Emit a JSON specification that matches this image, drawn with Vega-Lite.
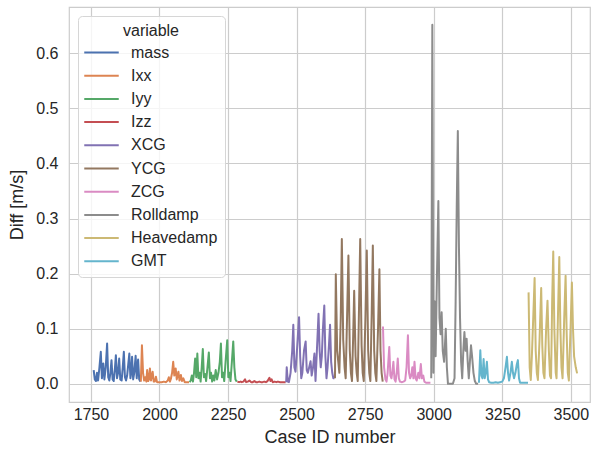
{
"$schema": "https://vega.github.io/schema/vega-lite/v6.json",
"width": 521, "height": 395,
"autosize": "none",
"padding": {"left": 69, "top": 7, "right": 10, "bottom": 52},
"background": "white",
"config": {
  "font": "Liberation Sans",
  "view": {"stroke": "#cccccc", "strokeWidth": 1.2},
  "axis": {"domain": false, "ticks": false, "grid": true, "gridColor": "#cccccc", "gridWidth": 1.2, "labelFontSize": 16, "labelColor": "#262626", "titleFontSize": 18, "titleFontWeight": "normal", "titleColor": "#262626"}
},
"data": {"values": [
{"case":1760,"variable":"mass","diff":0.025},{"case":1764,"variable":"mass","diff":0.008},{"case":1768,"variable":"mass","diff":0.005},{"case":1772,"variable":"mass","diff":0.02},{"case":1776,"variable":"mass","diff":0.006},{"case":1781,"variable":"mass","diff":0.03},{"case":1786,"variable":"mass","diff":0.058},{"case":1790,"variable":"mass","diff":0.01},{"case":1795,"variable":"mass","diff":0.037},{"case":1799,"variable":"mass","diff":0.008},{"case":1804,"variable":"mass","diff":0.03},{"case":1809,"variable":"mass","diff":0.073},{"case":1813,"variable":"mass","diff":0.012},{"case":1817,"variable":"mass","diff":0.006},{"case":1821,"variable":"mass","diff":0.02},{"case":1825,"variable":"mass","diff":0.043},{"case":1829,"variable":"mass","diff":0.008},{"case":1833,"variable":"mass","diff":0.005},{"case":1837,"variable":"mass","diff":0.025},{"case":1841,"variable":"mass","diff":0.052},{"case":1845,"variable":"mass","diff":0.01},{"case":1849,"variable":"mass","diff":0.02},{"case":1853,"variable":"mass","diff":0.046},{"case":1857,"variable":"mass","diff":0.008},{"case":1862,"variable":"mass","diff":0.006},{"case":1866,"variable":"mass","diff":0.03},{"case":1870,"variable":"mass","diff":0.058},{"case":1874,"variable":"mass","diff":0.012},{"case":1878,"variable":"mass","diff":0.006},{"case":1882,"variable":"mass","diff":0.015},{"case":1886,"variable":"mass","diff":0.035},{"case":1890,"variable":"mass","diff":0.055},{"case":1894,"variable":"mass","diff":0.01},{"case":1897,"variable":"mass","diff":0.02},{"case":1900,"variable":"mass","diff":0.049},{"case":1904,"variable":"mass","diff":0.008},{"case":1908,"variable":"mass","diff":0.02},{"case":1913,"variable":"mass","diff":0.051},{"case":1917,"variable":"mass","diff":0.01},{"case":1922,"variable":"mass","diff":0.044},{"case":1926,"variable":"mass","diff":0.008},{"case":1930,"variable":"mass","diff":0.004},
{"case":1932,"variable":"Ixx","diff":0.004},{"case":1936,"variable":"Ixx","diff":0.07},{"case":1940,"variable":"Ixx","diff":0.02},{"case":1944,"variable":"Ixx","diff":0.006},{"case":1948,"variable":"Ixx","diff":0.012},{"case":1952,"variable":"Ixx","diff":0.004},{"case":1955,"variable":"Ixx","diff":0.025},{"case":1959,"variable":"Ixx","diff":0.005},{"case":1962,"variable":"Ixx","diff":0.008},{"case":1965,"variable":"Ixx","diff":0.028},{"case":1969,"variable":"Ixx","diff":0.006},{"case":1975,"variable":"Ixx","diff":0.022},{"case":1979,"variable":"Ixx","diff":0.004},{"case":1983,"variable":"Ixx","diff":0.004},{"case":1987,"variable":"Ixx","diff":0.013},{"case":1991,"variable":"Ixx","diff":0.003},{"case":2000,"variable":"Ixx","diff":0.003},{"case":2008,"variable":"Ixx","diff":0.003},{"case":2016,"variable":"Ixx","diff":0.004},{"case":2024,"variable":"Ixx","diff":0.003},{"case":2030,"variable":"Ixx","diff":0.006},{"case":2034,"variable":"Ixx","diff":0.012},{"case":2038,"variable":"Ixx","diff":0.004},{"case":2042,"variable":"Ixx","diff":0.01},{"case":2046,"variable":"Ixx","diff":0.02},{"case":2050,"variable":"Ixx","diff":0.04},{"case":2054,"variable":"Ixx","diff":0.015},{"case":2059,"variable":"Ixx","diff":0.028},{"case":2063,"variable":"Ixx","diff":0.008},{"case":2069,"variable":"Ixx","diff":0.022},{"case":2073,"variable":"Ixx","diff":0.006},{"case":2078,"variable":"Ixx","diff":0.016},{"case":2082,"variable":"Ixx","diff":0.005},{"case":2087,"variable":"Ixx","diff":0.01},{"case":2092,"variable":"Ixx","diff":0.003},{"case":2100,"variable":"Ixx","diff":0.003},{"case":2108,"variable":"Ixx","diff":0.003},
{"case":2110,"variable":"Iyy","diff":0.003},{"case":2114,"variable":"Iyy","diff":0.006},{"case":2118,"variable":"Iyy","diff":0.015},{"case":2122,"variable":"Iyy","diff":0.004},{"case":2126,"variable":"Iyy","diff":0.02},{"case":2130,"variable":"Iyy","diff":0.046},{"case":2134,"variable":"Iyy","diff":0.012},{"case":2138,"variable":"Iyy","diff":0.055},{"case":2142,"variable":"Iyy","diff":0.01},{"case":2146,"variable":"Iyy","diff":0.02},{"case":2150,"variable":"Iyy","diff":0.004},{"case":2154,"variable":"Iyy","diff":0.03},{"case":2158,"variable":"Iyy","diff":0.063},{"case":2162,"variable":"Iyy","diff":0.012},{"case":2166,"variable":"Iyy","diff":0.018},{"case":2170,"variable":"Iyy","diff":0.005},{"case":2175,"variable":"Iyy","diff":0.03},{"case":2180,"variable":"Iyy","diff":0.057},{"case":2184,"variable":"Iyy","diff":0.01},{"case":2188,"variable":"Iyy","diff":0.02},{"case":2192,"variable":"Iyy","diff":0.004},{"case":2196,"variable":"Iyy","diff":0.015},{"case":2200,"variable":"Iyy","diff":0.006},{"case":2205,"variable":"Iyy","diff":0.025},{"case":2210,"variable":"Iyy","diff":0.008},{"case":2215,"variable":"Iyy","diff":0.02},{"case":2220,"variable":"Iyy","diff":0.04},{"case":2224,"variable":"Iyy","diff":0.073},{"case":2228,"variable":"Iyy","diff":0.012},{"case":2232,"variable":"Iyy","diff":0.02},{"case":2236,"variable":"Iyy","diff":0.005},{"case":2241,"variable":"Iyy","diff":0.04},{"case":2247,"variable":"Iyy","diff":0.079},{"case":2251,"variable":"Iyy","diff":0.012},{"case":2255,"variable":"Iyy","diff":0.02},{"case":2259,"variable":"Iyy","diff":0.005},{"case":2264,"variable":"Iyy","diff":0.04},{"case":2269,"variable":"Iyy","diff":0.077},{"case":2273,"variable":"Iyy","diff":0.03},{"case":2277,"variable":"Iyy","diff":0.008},{"case":2282,"variable":"Iyy","diff":0.004},
{"case":2284,"variable":"Izz","diff":0.004},{"case":2290,"variable":"Izz","diff":0.003},{"case":2296,"variable":"Izz","diff":0.004},{"case":2300,"variable":"Izz","diff":0.003},{"case":2306,"variable":"Izz","diff":0.004},{"case":2312,"variable":"Izz","diff":0.008},{"case":2316,"variable":"Izz","diff":0.003},{"case":2322,"variable":"Izz","diff":0.004},{"case":2328,"variable":"Izz","diff":0.006},{"case":2334,"variable":"Izz","diff":0.003},{"case":2340,"variable":"Izz","diff":0.003},{"case":2346,"variable":"Izz","diff":0.005},{"case":2352,"variable":"Izz","diff":0.003},{"case":2358,"variable":"Izz","diff":0.003},{"case":2364,"variable":"Izz","diff":0.004},{"case":2370,"variable":"Izz","diff":0.003},{"case":2376,"variable":"Izz","diff":0.003},{"case":2382,"variable":"Izz","diff":0.004},{"case":2388,"variable":"Izz","diff":0.003},{"case":2394,"variable":"Izz","diff":0.005},{"case":2401,"variable":"Izz","diff":0.011},{"case":2405,"variable":"Izz","diff":0.005},{"case":2409,"variable":"Izz","diff":0.008},{"case":2413,"variable":"Izz","diff":0.003},{"case":2420,"variable":"Izz","diff":0.004},{"case":2426,"variable":"Izz","diff":0.003},{"case":2432,"variable":"Izz","diff":0.004},{"case":2440,"variable":"Izz","diff":0.003},{"case":2448,"variable":"Izz","diff":0.003},{"case":2455,"variable":"Izz","diff":0.003},{"case":2460,"variable":"Izz","diff":0.003},
{"case":2462,"variable":"XCG","diff":0.003},{"case":2464,"variable":"XCG","diff":0.03},{"case":2468,"variable":"XCG","diff":0.004},{"case":2472,"variable":"XCG","diff":0.003},{"case":2478,"variable":"XCG","diff":0.02},{"case":2484,"variable":"XCG","diff":0.06},{"case":2488,"variable":"XCG","diff":0.107},{"case":2492,"variable":"XCG","diff":0.03},{"case":2496,"variable":"XCG","diff":0.022},{"case":2500,"variable":"XCG","diff":0.05},{"case":2505,"variable":"XCG","diff":0.09},{"case":2509,"variable":"XCG","diff":0.121},{"case":2513,"variable":"XCG","diff":0.05},{"case":2517,"variable":"XCG","diff":0.01},{"case":2521,"variable":"XCG","diff":0.02},{"case":2527,"variable":"XCG","diff":0.06},{"case":2533,"variable":"XCG","diff":0.077},{"case":2537,"variable":"XCG","diff":0.025},{"case":2541,"variable":"XCG","diff":0.02},{"case":2546,"variable":"XCG","diff":0.03},{"case":2551,"variable":"XCG","diff":0.041},{"case":2555,"variable":"XCG","diff":0.015},{"case":2560,"variable":"XCG","diff":0.03},{"case":2565,"variable":"XCG","diff":0.055},{"case":2569,"variable":"XCG","diff":0.005},{"case":2574,"variable":"XCG","diff":0.06},{"case":2580,"variable":"XCG","diff":0.127},{"case":2584,"variable":"XCG","diff":0.06},{"case":2588,"variable":"XCG","diff":0.03},{"case":2592,"variable":"XCG","diff":0.05},{"case":2596,"variable":"XCG","diff":0.1},{"case":2601,"variable":"XCG","diff":0.142},{"case":2605,"variable":"XCG","diff":0.05},{"case":2609,"variable":"XCG","diff":0.01},{"case":2613,"variable":"XCG","diff":0.03},{"case":2618,"variable":"XCG","diff":0.07},{"case":2622,"variable":"XCG","diff":0.107},{"case":2626,"variable":"XCG","diff":0.04},{"case":2630,"variable":"XCG","diff":0.02},{"case":2634,"variable":"XCG","diff":0.01},{"case":2638,"variable":"XCG","diff":0.01},
{"case":2640,"variable":"YCG","diff":0.01},{"case":2643,"variable":"YCG","diff":0.199},{"case":2648,"variable":"YCG","diff":0.06},{"case":2652,"variable":"YCG","diff":0.04},{"case":2656,"variable":"YCG","diff":0.02},{"case":2661,"variable":"YCG","diff":0.12},{"case":2665,"variable":"YCG","diff":0.263},{"case":2670,"variable":"YCG","diff":0.08},{"case":2675,"variable":"YCG","diff":0.03},{"case":2679,"variable":"YCG","diff":0.01},{"case":2684,"variable":"YCG","diff":0.12},{"case":2689,"variable":"YCG","diff":0.233},{"case":2694,"variable":"YCG","diff":0.06},{"case":2698,"variable":"YCG","diff":0.02},{"case":2702,"variable":"YCG","diff":0.005},{"case":2706,"variable":"YCG","diff":0.08},{"case":2710,"variable":"YCG","diff":0.169},{"case":2715,"variable":"YCG","diff":0.05},{"case":2719,"variable":"YCG","diff":0.02},{"case":2723,"variable":"YCG","diff":0.005},{"case":2727,"variable":"YCG","diff":0.12},{"case":2732,"variable":"YCG","diff":0.263},{"case":2737,"variable":"YCG","diff":0.07},{"case":2741,"variable":"YCG","diff":0.02},{"case":2745,"variable":"YCG","diff":0.005},{"case":2751,"variable":"YCG","diff":0.12},{"case":2756,"variable":"YCG","diff":0.242},{"case":2761,"variable":"YCG","diff":0.06},{"case":2765,"variable":"YCG","diff":0.02},{"case":2769,"variable":"YCG","diff":0.005},{"case":2774,"variable":"YCG","diff":0.13},{"case":2778,"variable":"YCG","diff":0.251},{"case":2783,"variable":"YCG","diff":0.06},{"case":2787,"variable":"YCG","diff":0.02},{"case":2791,"variable":"YCG","diff":0.005},{"case":2797,"variable":"YCG","diff":0.1},{"case":2802,"variable":"YCG","diff":0.208},{"case":2806,"variable":"YCG","diff":0.06},{"case":2810,"variable":"YCG","diff":0.02},{"case":2814,"variable":"YCG","diff":0.004},
{"case":2815,"variable":"ZCG","diff":0.104},{"case":2819,"variable":"ZCG","diff":0.03},{"case":2824,"variable":"ZCG","diff":0.008},{"case":2828,"variable":"ZCG","diff":0.004},{"case":2832,"variable":"ZCG","diff":0.02},{"case":2838,"variable":"ZCG","diff":0.067},{"case":2842,"variable":"ZCG","diff":0.015},{"case":2846,"variable":"ZCG","diff":0.01},{"case":2850,"variable":"ZCG","diff":0.025},{"case":2853,"variable":"ZCG","diff":0.04},{"case":2857,"variable":"ZCG","diff":0.008},{"case":2861,"variable":"ZCG","diff":0.004},{"case":2865,"variable":"ZCG","diff":0.02},{"case":2869,"variable":"ZCG","diff":0.046},{"case":2873,"variable":"ZCG","diff":0.01},{"case":2877,"variable":"ZCG","diff":0.004},{"case":2883,"variable":"ZCG","diff":0.003},{"case":2890,"variable":"ZCG","diff":0.004},{"case":2896,"variable":"ZCG","diff":0.006},{"case":2901,"variable":"ZCG","diff":0.03},{"case":2906,"variable":"ZCG","diff":0.088},{"case":2910,"variable":"ZCG","diff":0.02},{"case":2914,"variable":"ZCG","diff":0.01},{"case":2918,"variable":"ZCG","diff":0.015},{"case":2922,"variable":"ZCG","diff":0.03},{"case":2926,"variable":"ZCG","diff":0.01},{"case":2930,"variable":"ZCG","diff":0.04},{"case":2934,"variable":"ZCG","diff":0.01},{"case":2938,"variable":"ZCG","diff":0.006},{"case":2944,"variable":"ZCG","diff":0.02},{"case":2948,"variable":"ZCG","diff":0.01},{"case":2953,"variable":"ZCG","diff":0.036},{"case":2957,"variable":"ZCG","diff":0.01},{"case":2962,"variable":"ZCG","diff":0.015},{"case":2966,"variable":"ZCG","diff":0.004},{"case":2972,"variable":"ZCG","diff":0.002},{"case":2980,"variable":"ZCG","diff":0.002},{"case":2988,"variable":"ZCG","diff":0.002},
{"case":2991,"variable":"Rolldamp","diff":0.01},{"case":2995,"variable":"Rolldamp","diff":0.652},{"case":2999,"variable":"Rolldamp","diff":0.02},{"case":3003,"variable":"Rolldamp","diff":0.15},{"case":3007,"variable":"Rolldamp","diff":0.05},{"case":3012,"variable":"Rolldamp","diff":0.2},{"case":3017,"variable":"Rolldamp","diff":0.332},{"case":3021,"variable":"Rolldamp","diff":0.12},{"case":3025,"variable":"Rolldamp","diff":0.09},{"case":3029,"variable":"Rolldamp","diff":0.13},{"case":3033,"variable":"Rolldamp","diff":0.06},{"case":3038,"variable":"Rolldamp","diff":0.04},{"case":3044,"variable":"Rolldamp","diff":0.1},{"case":3048,"variable":"Rolldamp","diff":0.03},{"case":3052,"variable":"Rolldamp","diff":0.0},{"case":3058,"variable":"Rolldamp","diff":0.0},{"case":3064,"variable":"Rolldamp","diff":0.0},{"case":3070,"variable":"Rolldamp","diff":0.0},{"case":3076,"variable":"Rolldamp","diff":0.01},{"case":3080,"variable":"Rolldamp","diff":0.15},{"case":3084,"variable":"Rolldamp","diff":0.32},{"case":3088,"variable":"Rolldamp","diff":0.459},{"case":3092,"variable":"Rolldamp","diff":0.25},{"case":3096,"variable":"Rolldamp","diff":0.12},{"case":3100,"variable":"Rolldamp","diff":0.04},{"case":3104,"variable":"Rolldamp","diff":0.01},{"case":3108,"variable":"Rolldamp","diff":0.06},{"case":3112,"variable":"Rolldamp","diff":0.094},{"case":3116,"variable":"Rolldamp","diff":0.06},{"case":3120,"variable":"Rolldamp","diff":0.082},{"case":3124,"variable":"Rolldamp","diff":0.04},{"case":3128,"variable":"Rolldamp","diff":0.01},{"case":3132,"variable":"Rolldamp","diff":0.04},{"case":3136,"variable":"Rolldamp","diff":0.07},{"case":3140,"variable":"Rolldamp","diff":0.05},{"case":3145,"variable":"Rolldamp","diff":0.02},{"case":3150,"variable":"Rolldamp","diff":0.005},{"case":3155,"variable":"Rolldamp","diff":0.0},{"case":3162,"variable":"Rolldamp","diff":0.0},
{"case":3165,"variable":"GMT","diff":0.002},{"case":3170,"variable":"GMT","diff":0.061},{"case":3174,"variable":"GMT","diff":0.015},{"case":3178,"variable":"GMT","diff":0.01},{"case":3182,"variable":"GMT","diff":0.045},{"case":3186,"variable":"GMT","diff":0.01},{"case":3190,"variable":"GMT","diff":0.02},{"case":3194,"variable":"GMT","diff":0.04},{"case":3198,"variable":"GMT","diff":0.008},{"case":3202,"variable":"GMT","diff":0.003},{"case":3210,"variable":"GMT","diff":0.002},{"case":3218,"variable":"GMT","diff":0.002},{"case":3226,"variable":"GMT","diff":0.003},{"case":3234,"variable":"GMT","diff":0.002},{"case":3242,"variable":"GMT","diff":0.003},{"case":3250,"variable":"GMT","diff":0.004},{"case":3256,"variable":"GMT","diff":0.01},{"case":3262,"variable":"GMT","diff":0.03},{"case":3267,"variable":"GMT","diff":0.049},{"case":3271,"variable":"GMT","diff":0.02},{"case":3275,"variable":"GMT","diff":0.006},{"case":3280,"variable":"GMT","diff":0.02},{"case":3285,"variable":"GMT","diff":0.04},{"case":3289,"variable":"GMT","diff":0.02},{"case":3293,"variable":"GMT","diff":0.01},{"case":3298,"variable":"GMT","diff":0.02},{"case":3303,"variable":"GMT","diff":0.035},{"case":3307,"variable":"GMT","diff":0.043},{"case":3311,"variable":"GMT","diff":0.01},{"case":3315,"variable":"GMT","diff":0.002},{"case":3325,"variable":"GMT","diff":0.002},{"case":3335,"variable":"GMT","diff":0.002},{"case":3344,"variable":"GMT","diff":0.002},
{"case":3346,"variable":"Heavedamp","diff":0.166},{"case":3350,"variable":"Heavedamp","diff":0.03},{"case":3354,"variable":"Heavedamp","diff":0.007},{"case":3358,"variable":"Heavedamp","diff":0.05},{"case":3363,"variable":"Heavedamp","diff":0.12},{"case":3368,"variable":"Heavedamp","diff":0.192},{"case":3372,"variable":"Heavedamp","diff":0.06},{"case":3376,"variable":"Heavedamp","diff":0.02},{"case":3380,"variable":"Heavedamp","diff":0.007},{"case":3386,"variable":"Heavedamp","diff":0.08},{"case":3392,"variable":"Heavedamp","diff":0.174},{"case":3396,"variable":"Heavedamp","diff":0.07},{"case":3400,"variable":"Heavedamp","diff":0.02},{"case":3404,"variable":"Heavedamp","diff":0.01},{"case":3410,"variable":"Heavedamp","diff":0.1},{"case":3415,"variable":"Heavedamp","diff":0.151},{"case":3420,"variable":"Heavedamp","diff":0.06},{"case":3424,"variable":"Heavedamp","diff":0.015},{"case":3428,"variable":"Heavedamp","diff":0.01},{"case":3432,"variable":"Heavedamp","diff":0.15},{"case":3436,"variable":"Heavedamp","diff":0.24},{"case":3440,"variable":"Heavedamp","diff":0.1},{"case":3445,"variable":"Heavedamp","diff":0.02},{"case":3448,"variable":"Heavedamp","diff":0.01},{"case":3453,"variable":"Heavedamp","diff":0.12},{"case":3458,"variable":"Heavedamp","diff":0.23},{"case":3462,"variable":"Heavedamp","diff":0.1},{"case":3466,"variable":"Heavedamp","diff":0.03},{"case":3470,"variable":"Heavedamp","diff":0.01},{"case":3476,"variable":"Heavedamp","diff":0.12},{"case":3481,"variable":"Heavedamp","diff":0.196},{"case":3485,"variable":"Heavedamp","diff":0.09},{"case":3489,"variable":"Heavedamp","diff":0.02},{"case":3493,"variable":"Heavedamp","diff":0.006},{"case":3499,"variable":"Heavedamp","diff":0.1},{"case":3504,"variable":"Heavedamp","diff":0.184},{"case":3508,"variable":"Heavedamp","diff":0.1},{"case":3512,"variable":"Heavedamp","diff":0.05},{"case":3518,"variable":"Heavedamp","diff":0.03},{"case":3523,"variable":"Heavedamp","diff":0.019}
]},
"mark": {"type": "line", "strokeWidth": 2, "strokeJoin": "round"},
"encoding": {
  "x": {"field": "case", "type": "quantitative", "title": "Case ID number",
        "scale": {"domain": [1670, 3570], "nice": false, "zero": false},
        "axis": {"values": [1750, 2000, 2250, 2500, 2750, 3000, 3250, 3500], "format": "d", "labelPadding": 4, "titlePadding": 6}},
  "y": {"field": "diff", "type": "quantitative", "title": "Diff [m/s]",
        "scale": {"domain": [-0.033, 0.684], "nice": false, "zero": false},
        "axis": {"values": [0, 0.1, 0.2, 0.3, 0.4, 0.5, 0.6], "format": ".1f", "labelPadding": 11, "titlePadding": 9}},
  "color": {"field": "variable", "type": "nominal", "title": "variable",
    "scale": {"domain": ["mass", "Ixx", "Iyy", "Izz", "XCG", "YCG", "ZCG", "Rolldamp", "Heavedamp", "GMT"],
              "range": ["#4C72B0", "#DD8452", "#55A868", "#C44E52", "#8172B3", "#937860", "#DA8BC3", "#8C8C8C", "#CCB974", "#64B5CD"]},
    "legend": {"orient": "none", "legendX": 9, "legendY": 9, "padding": 7,
      "fillColor": "rgba(255,255,255,0.8)", "strokeColor": "#d6d6d6", "cornerRadius": 4,
      "titleFontSize": 16, "titleFontWeight": "normal", "titleColor": "#262626", "titleAnchor": "middle", "titlePadding": 1,
      "labelFontSize": 16, "labelColor": "#262626", "labelOffset": 17, "symbolOffset": 4,
      "symbolType": "M-1.5,0H1.5", "symbolSize": 529, "symbolStrokeWidth": 2, "rowPadding": 2.2}}
}
}
